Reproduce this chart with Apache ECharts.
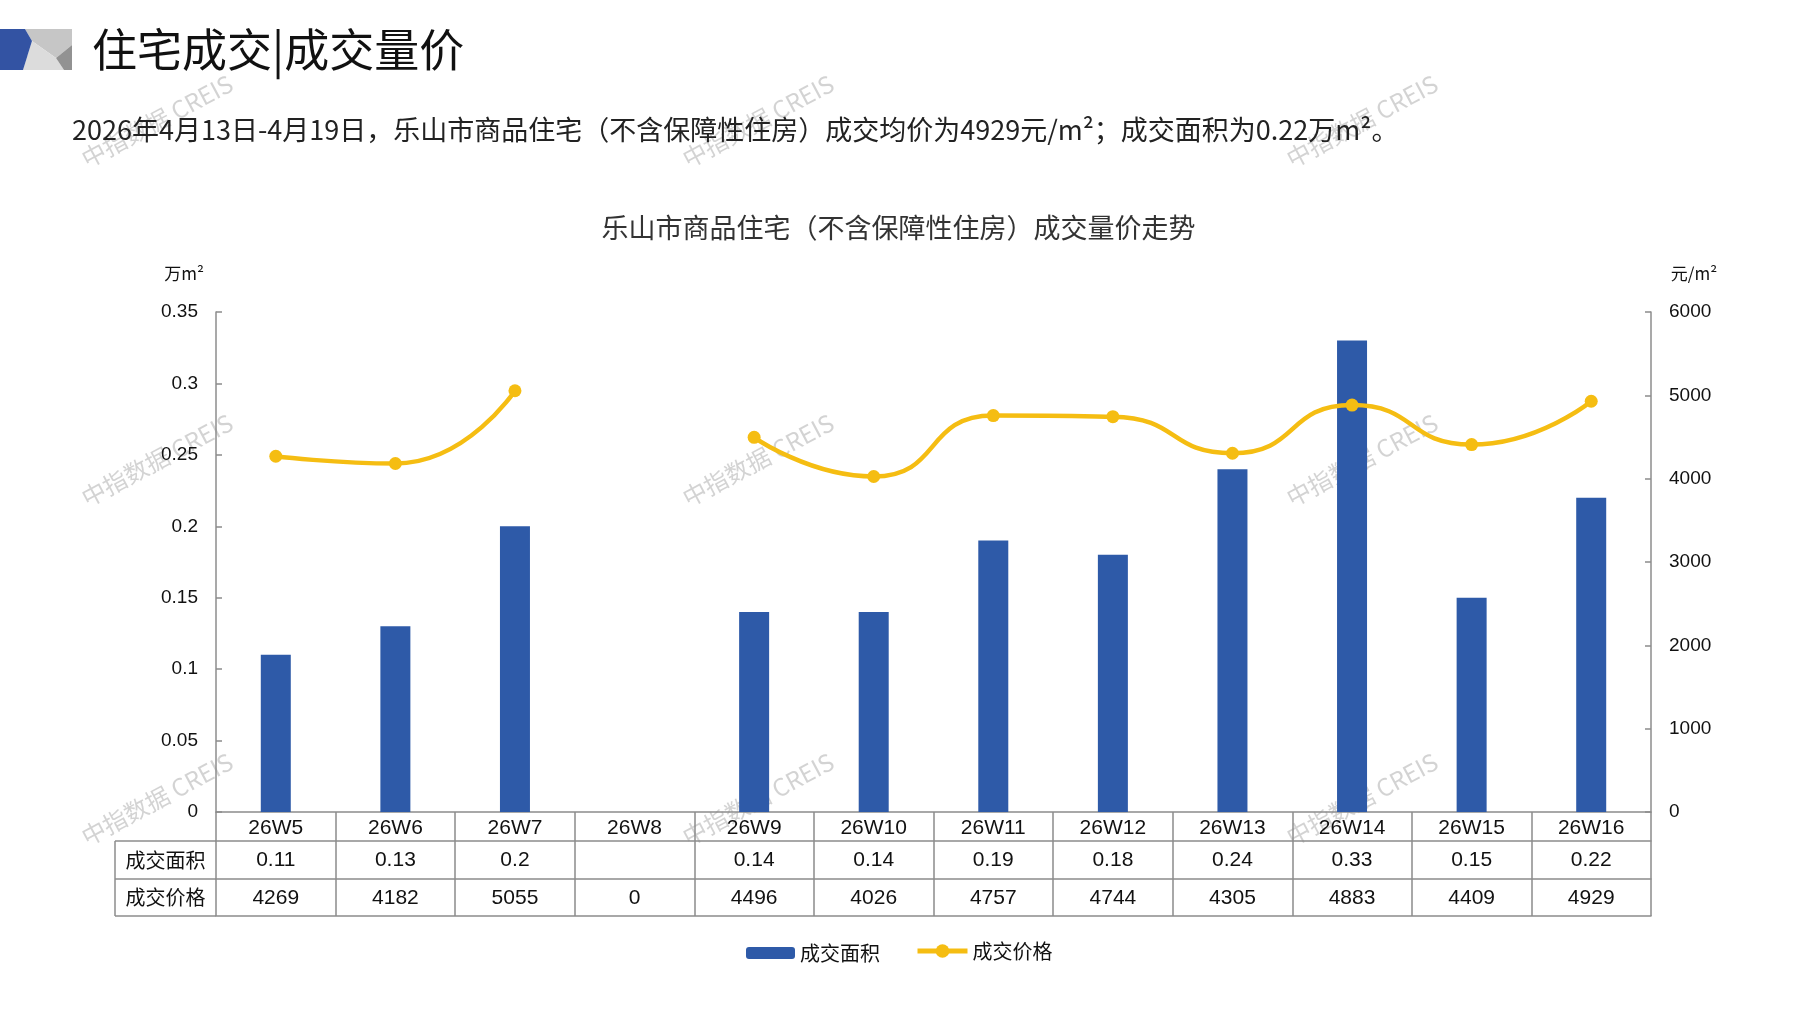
<!DOCTYPE html>
<html><head><meta charset="utf-8">
<script src="https://cdn.jsdelivr.net/npm/echarts@6/dist/echarts.min.js"></script>
<style>html,body{margin:0;padding:0;background:#fff}#c{width:1797px;height:1010px}</style>
</head><body><div id="c"></div>
<script>
// ---- data ----
const categories = ['26W5','26W6','26W7','26W8','26W9','26W10','26W11','26W12','26W13','26W14','26W15','26W16'];
const areaValues = [0.11, 0.13, 0.2, null, 0.14, 0.14, 0.19, 0.18, 0.24, 0.33, 0.15, 0.22];
const priceValues = [4269, 4182, 5055, 0, 4496, 4026, 4757, 4744, 4305, 4883, 4409, 4929];
const seriesNames = ['成交面积', '成交价格'];
const headerTitle = '住宅成交|成交量价';
const subtitleText = '2026年4月13日-4月19日，乐山市商品住宅（不含保障性住房）成交均价为4929元/m²；成交面积为0.22万m²。';
const chartTitle = '乐山市商品住宅（不含保障性住房）成交量价走势';
const leftAxisName = '万m²';
const rightAxisName = '元/m²';
const watermarkText = '中指数据 CREIS';

// ---- layout / style ----
const W = 1797, H = 1010;
const GL = 216, GR = 1651, GT = 312, GB = 812;
const ROWS = [812, 841, 879, 916];
const TABLE_LEFT = 115;
const BAR_COLOR = '#2E5AA8';
const LINE_COLOR = '#F5BD12';
const BORDER = '#8c8c8c';
const CJK = '"Noto Sans CJK SC", sans-serif';
const NUM = '"Liberation Sans Narrow", "Liberation Sans", sans-serif';

const areaRow = areaValues.map(v => v == null ? '' : String(v));
const priceRow = priceValues.map(v => String(v));
const priceLine = priceValues.map(v => v === 0 ? '-' : v);

function rowAxis(texts, offset, tickLen, margin) {
  return {
    type: 'category', gridIndex: 0, position: 'bottom', offset: offset, data: categories,
    boundaryGap: true,
    axisLine: { show: true, onZero: false, lineStyle: { color: BORDER, width: 1.5 } },
    axisTick: { show: tickLen > 0, interval: 0, length: tickLen, inside: false, lineStyle: { color: BORDER, width: 1.5 } },
    axisLabel: { show: !!texts, interval: 0, margin: margin, color: '#111', fontSize: 21, fontFamily: NUM,
      formatter: texts ? function (v, i) { return texts[i]; } : null },
    splitLine: { show: false }, axisPointer: { show: false }
  };
}

const marks = [];
const wmX = [157, 758, 1362], wmY = [121, 460, 799];
wmY.forEach(y => wmX.forEach(x => marks.push({
  type: 'text', x: x, y: y, rotation: 0.49, z: -10,
  style: { text: watermarkText, fill: 'rgba(150,150,150,0.42)', font: '24px ' + CJK, align: 'center', verticalAlign: 'middle' }
})));

const graphics = marks.concat([
  // logo
  { type: 'polygon', shape: { points: [[25,29],[72,29],[72,45],[56,58],[32,41]] }, style: { fill: '#c6c6c6' } },
  { type: 'polygon', shape: { points: [[32,41],[56,58],[64,70],[23,70]] }, style: { fill: '#dcdcdc' } },
  { type: 'polygon', shape: { points: [[72,45],[72,70],[64,70],[56,58]] }, style: { fill: '#929292' } },
  { type: 'polygon', shape: { points: [[0,29],[25,29],[32,41],[23,70],[0,70]] }, style: { fill: '#3353A3' } },
  { type: 'text', x: 92, y: 50, style: { text: headerTitle, font: '45px ' + CJK, fill: '#111', verticalAlign: 'middle' } },
  { type: 'text', x: 72, y: 130, style: { text: subtitleText, font: '27px ' + CJK, fill: '#222', verticalAlign: 'middle' } },
  // table label column
  { type: 'line', shape: { x1: TABLE_LEFT, y1: ROWS[1], x2: GL, y2: ROWS[1] }, style: { stroke: BORDER, lineWidth: 1.5 } },
  { type: 'line', shape: { x1: TABLE_LEFT, y1: ROWS[2], x2: GL, y2: ROWS[2] }, style: { stroke: BORDER, lineWidth: 1.5 } },
  { type: 'line', shape: { x1: TABLE_LEFT, y1: ROWS[3], x2: GL, y2: ROWS[3] }, style: { stroke: BORDER, lineWidth: 1.5 } },
  { type: 'line', shape: { x1: TABLE_LEFT, y1: ROWS[1], x2: TABLE_LEFT, y2: ROWS[3] }, style: { stroke: BORDER, lineWidth: 1.5 } },
  { type: 'text', x: (TABLE_LEFT + GL) / 2, y: (ROWS[1] + ROWS[2]) / 2, style: { text: seriesNames[0], font: '20px ' + CJK, fill: '#111', align: 'center', verticalAlign: 'middle' } },
  { type: 'text', x: (TABLE_LEFT + GL) / 2, y: (ROWS[2] + ROWS[3]) / 2, style: { text: seriesNames[1], font: '20px ' + CJK, fill: '#111', align: 'center', verticalAlign: 'middle' } }
]);

const legendText = { fontSize: 20, color: '#111', fontFamily: CJK };
const chart = echarts.init(document.getElementById('c'), null, { renderer: 'canvas', width: W, height: H });
chart.setOption({
  backgroundColor: '#fff',
  animation: false,
  title: { text: chartTitle, left: 'center', top: 209, textStyle: { fontSize: 27, fontWeight: 'normal', color: '#333', fontFamily: CJK } },
  grid: { left: GL, right: W - GR, top: GT, bottom: H - GB, containLabel: false },
  legend: [
    { data: [seriesNames[0]], left: 741, top: 938, itemWidth: 49, itemHeight: 12, textStyle: legendText },
    { data: [seriesNames[1]], left: 910, top: 936, itemWidth: 50, itemHeight: 17, textStyle: legendText, lineStyle: { width: 5 } }
  ],
  xAxis: [
    rowAxis(categories, 0, ROWS[3] - ROWS[0], 6),
    rowAxis(areaRow, ROWS[1] - ROWS[0], 0, 9),
    rowAxis(priceRow, ROWS[2] - ROWS[0], 0, 9),
    rowAxis(null, ROWS[3] - ROWS[0], 0, 8)
  ],
  yAxis: [
    {
      type: 'value', min: 0, max: 0.35, interval: 0.05, position: 'left',
      name: leftAxisName, nameLocation: 'end', nameGap: 30,
      nameTextStyle: { fontSize: 17, color: '#111', fontFamily: CJK, align: 'center', padding: [0, 64, 0, 0] },
      axisLine: { show: true, onZero: false, lineStyle: { color: BORDER, width: 1.5 } },
      axisTick: { show: true, inside: true, length: 6, lineStyle: { color: BORDER, width: 1.5 } },
      axisLabel: { margin: 18, fontSize: 19, color: '#111', fontFamily: NUM },
      splitLine: { show: false }
    },
    {
      type: 'value', min: 0, max: 6000, interval: 1000, position: 'right',
      name: rightAxisName, nameLocation: 'end', nameGap: 30,
      nameTextStyle: { fontSize: 17, color: '#111', fontFamily: CJK, align: 'center', padding: [0, 0, 0, 86] },
      axisLine: { show: true, onZero: false, lineStyle: { color: BORDER, width: 1.5 } },
      axisTick: { show: true, inside: true, length: 6, lineStyle: { color: BORDER, width: 1.5 } },
      axisLabel: { margin: 18, fontSize: 19, color: '#111', fontFamily: '"Liberation Sans", sans-serif', formatter: function (v) { return String(v); } },
      splitLine: { show: false }
    }
  ],
  series: [
    { name: seriesNames[0], type: 'bar', xAxisIndex: 0, yAxisIndex: 0, data: areaValues, barWidth: 30, itemStyle: { color: BAR_COLOR }, z: 2 },
    { name: seriesNames[1], type: 'line', xAxisIndex: 0, yAxisIndex: 1, data: priceLine, smooth: 0.55, connectNulls: false,
      symbol: 'circle', symbolSize: 13, lineStyle: { color: LINE_COLOR, width: 4.5 }, itemStyle: { color: LINE_COLOR }, z: 3 }
  ],
  graphic: graphics
});
</script></body></html>
